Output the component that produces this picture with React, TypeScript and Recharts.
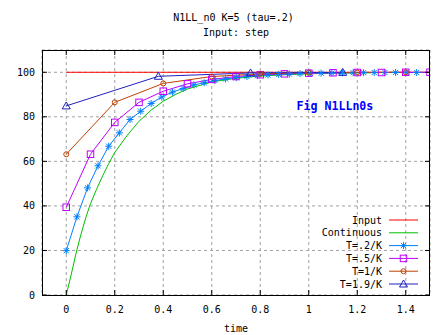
import React from 'react';
import { LineChart, Line, XAxis, YAxis, CartesianGrid, ReferenceDot } from 'recharts';

const FONT = '"DejaVu Sans Mono", "Liberation Mono", monospace';

const TITLE_LINES = ['N1LL_n0 K=5 (tau=.2)', 'Input: step'];
const X_LABEL = 'time';
const FIG_LABEL = 'Fig N1LLn0s';

const X_TICKS = [0, 0.2, 0.4, 0.6, 0.8, 1, 1.2, 1.4];
const Y_TICKS = [0, 20, 40, 60, 80, 100];
const X_DOMAIN: [number, number] = [-0.1, 1.5];
const Y_DOMAIN: [number, number] = [0, 110];

// Input step
const inputT = [0, 1.5];
const inputV = [100, 100];

// Continuous response
const contT = [0, 0.02, 0.04, 0.06, 0.08, 0.1, 0.125, 0.15, 0.175, 0.2, 0.25, 0.3, 0.35, 0.4, 0.45, 0.5, 0.6, 0.7, 0.8, 0.9, 1.0, 1.1, 1.2, 1.3, 1.4, 1.5];
const contV = [0, 9, 18.5, 27, 34.5, 41, 47.5, 53.5, 59, 64, 71.5, 78, 83, 87, 90, 92.5, 95.7, 97.3, 98.3, 98.9, 99.3, 99.6, 99.75, 99.85, 99.9, 99.95];

// T=.2/K
const t02T = [0, 0.044, 0.088, 0.131, 0.175, 0.219, 0.263, 0.307, 0.35, 0.394, 0.438, 0.482, 0.526, 0.569, 0.613, 0.657, 0.701, 0.745, 0.788, 0.832, 0.876, 0.92, 0.964, 1.007, 1.051, 1.095, 1.139, 1.183, 1.226, 1.27, 1.314, 1.358, 1.402, 1.445];
const t02V = [19.9, 35.1, 48.1, 58.0, 66.8, 72.8, 78.8, 82.5, 86.0, 88.9, 91.1, 92.7, 94.3, 95.3, 96.3, 97.0, 97.6, 98.1, 98.5, 98.8, 99.0, 99.2, 99.4, 99.5, 99.6, 99.7, 99.7, 99.8, 99.8, 99.9, 99.9, 99.9, 99.9, 99.9];

// T=.5/K
const t05T = [0, 0.1, 0.2, 0.3, 0.4, 0.5, 0.6, 0.7, 0.8, 0.9, 1.0, 1.1, 1.2, 1.3, 1.4, 1.5];
const t05V = [39.4, 63.2, 77.5, 86.5, 91.5, 94.8, 96.8, 98.1, 98.9, 99.3, 99.6, 99.8, 99.9, 99.9, 100, 100];

// T=1/K
const t1T = [0, 0.2, 0.4, 0.6, 0.8, 1.0, 1.2, 1.4];
const t1V = [63.2, 86.5, 95.0, 98.1, 99.3, 99.8, 99.9, 100];

// T=1.9/K
const t19T = [0, 0.38, 0.76, 1.14];
const t19V = [84.9, 98.2, 99.7, 99.95];

const zip = (ts: number[], vs: number[]) => ts.map((t, i) => ({ t, v: vs[i] }));

type MarkerKind = 'star' | 'square' | 'circle' | 'triangle' | null;

const SERIES: { name: string; color: string; marker: MarkerKind; data: { t: number; v: number }[] }[] = [
  { name: 'Input', color: '#ff0000', marker: null, data: zip(inputT, inputV) },
  { name: 'Continuous', color: '#00c000', marker: null, data: zip(contT, contV) },
  { name: 'T=.2/K', color: '#0080ff', marker: 'star', data: zip(t02T, t02V) },
  { name: 'T=.5/K', color: '#c000ff', marker: 'square', data: zip(t05T, t05V) },
  { name: 'T=1/K', color: '#c04000', marker: 'circle', data: zip(t1T, t1V) },
  { name: 'T=1.9/K', color: '#2020c0', marker: 'triangle', data: zip(t19T, t19V) },
];

// Layout
const W = 447;
const H = 335;
const PLOT_LEFT = 42;
const PLOT_TOP = 50;
const PLOT_RIGHT = 430;
const PLOT_BOTTOM = 295;
const TICK_LEN = 5;

const sx = (t: number) => PLOT_LEFT + ((t - X_DOMAIN[0]) / (X_DOMAIN[1] - X_DOMAIN[0])) * (PLOT_RIGHT - PLOT_LEFT);
const sy = (v: number) => PLOT_BOTTOM - ((v - Y_DOMAIN[0]) / (Y_DOMAIN[1] - Y_DOMAIN[0])) * (PLOT_BOTTOM - PLOT_TOP);

function Marker({ kind, cx, cy, color }: { kind: MarkerKind; cx: number; cy: number; color: string }) {
  if (cx == null || cy == null || !kind) return null;
  switch (kind) {
    case 'star':
      return (
        <g stroke={color} strokeWidth={1} fill="none">
          <line x1={cx - 3.5} y1={cy} x2={cx + 3.5} y2={cy} />
          <line x1={cx} y1={cy - 3.5} x2={cx} y2={cy + 3.5} />
          <line x1={cx - 2.6} y1={cy - 2.6} x2={cx + 2.6} y2={cy + 2.6} />
          <line x1={cx - 2.6} y1={cy + 2.6} x2={cx + 2.6} y2={cy - 2.6} />
        </g>
      );
    case 'square':
      return <rect x={cx - 3.25} y={cy - 3.25} width={6.5} height={6.5} fill="none" stroke={color} strokeWidth={1} />;
    case 'circle':
      return <circle cx={cx} cy={cy} r={2.5} fill="none" stroke={color} strokeWidth={1} />;
    case 'triangle':
      return (
        <polygon
          points={`${cx},${cy - 4} ${cx - 4},${cy + 3} ${cx + 4},${cy + 3}`}
          fill="none"
          stroke={color}
          strokeWidth={1}
        />
      );
  }
  return null;
}

const LEGEND_TEXT_X = 382;
const LEGEND_LINE_X1 = 389;
const LEGEND_LINE_X2 = 418;
const LEGEND_Y0 = 220;
const LEGEND_STEP = 12.8;

export default function App() {
  return (
    <div style={{ position: 'absolute', left: 0, top: 0, width: W, height: H, background: '#fff' }}>
      <LineChart
        width={W}
        height={H}
        margin={{ top: PLOT_TOP, right: W - PLOT_RIGHT, bottom: 0, left: 0 }}
      >
        <CartesianGrid stroke="#a0a0a0" strokeDasharray="3 3" />
        <XAxis
          dataKey="t"
          type="number"
          domain={X_DOMAIN}
          ticks={X_TICKS}
          interval={0}
          allowDataOverflow
          height={H - PLOT_BOTTOM}
          tickSize={-TICK_LEN}
          tickMargin={16}
          axisLine={false}
          tickLine={{ stroke: '#000' }}
          tick={{ fill: '#000', fontSize: 10, fontFamily: FONT }}
          label={{ value: X_LABEL, position: 'insideBottom', offset: 3, fill: '#000', fontSize: 10, fontFamily: FONT }}
        />
        <YAxis
          type="number"
          domain={Y_DOMAIN}
          ticks={Y_TICKS}
          interval={0}
          allowDataOverflow
          width={PLOT_LEFT}
          tickSize={-TICK_LEN}
          tickMargin={12}
          axisLine={false}
          tickLine={{ stroke: '#000' }}
          tick={{ fill: '#000', fontSize: 10, fontFamily: FONT }}
        />
        {SERIES.map((s) => (
          <Line
            key={s.name}
            data={s.data}
            dataKey="v"
            name={s.name}
            type="linear"
            stroke={s.color}
            strokeWidth={1}
            isAnimationActive={false}
            activeDot={false}
            dot={
              s.marker
                ? (p: any) => (
                    <Marker key={`${s.name}-${p.index}`} kind={s.marker} cx={p.cx} cy={p.cy} color={s.color} />
                  )
                : false
            }
          />
        ))}
        <ReferenceDot
          x={1.108}
          y={84.9}
          r={0}
          fill="none"
          stroke="none"
          label={{
            value: FIG_LABEL,
            position: 'center',
            fill: '#0000ff',
            fontSize: 11.6,
            fontWeight: 'bold',
            fontFamily: FONT,
          }}
        />
      </LineChart>
      <svg width={W} height={H} style={{ position: 'absolute', left: 0, top: 0, pointerEvents: 'none' }}>
        {/* plot frame with mirrored ticks on top and right */}
        <rect
          x={PLOT_LEFT + 0.5}
          y={PLOT_TOP + 0.5}
          width={PLOT_RIGHT - PLOT_LEFT - 1}
          height={PLOT_BOTTOM - PLOT_TOP}
          fill="none"
          stroke="#000"
          strokeWidth={1}
        />
        {X_TICKS.map((t) => (
          <line key={`tx${t}`} x1={sx(t)} y1={PLOT_TOP} x2={sx(t)} y2={PLOT_TOP + TICK_LEN} stroke="#000" strokeWidth={1} />
        ))}
        {Y_TICKS.map((v) => (
          <line key={`ty${v}`} x1={PLOT_RIGHT} y1={sy(v)} x2={PLOT_RIGHT - TICK_LEN} y2={sy(v)} stroke="#000" strokeWidth={1} />
        ))}
        <text x={233.5} y={21} textAnchor="middle" fontSize={10} fontFamily={FONT} fill="#000">
          {TITLE_LINES[0]}
        </text>
        <text x={236} y={35.5} textAnchor="middle" fontSize={10} fontFamily={FONT} fill="#000">
          {TITLE_LINES[1]}
        </text>
        {SERIES.map((s, i) => {
          const y = LEGEND_Y0 + i * LEGEND_STEP;
          return (
            <g key={s.name}>
              <text x={LEGEND_TEXT_X} y={y} dy="0.35em" textAnchor="end" fontSize={10} fontFamily={FONT} fill="#000">
                {s.name}
              </text>
              <line x1={LEGEND_LINE_X1} y1={y} x2={LEGEND_LINE_X2} y2={y} stroke={s.color} strokeWidth={1} />
              <Marker kind={s.marker} cx={(LEGEND_LINE_X1 + LEGEND_LINE_X2) / 2} cy={y} color={s.color} />
            </g>
          );
        })}
      </svg>
    </div>
  );
}
